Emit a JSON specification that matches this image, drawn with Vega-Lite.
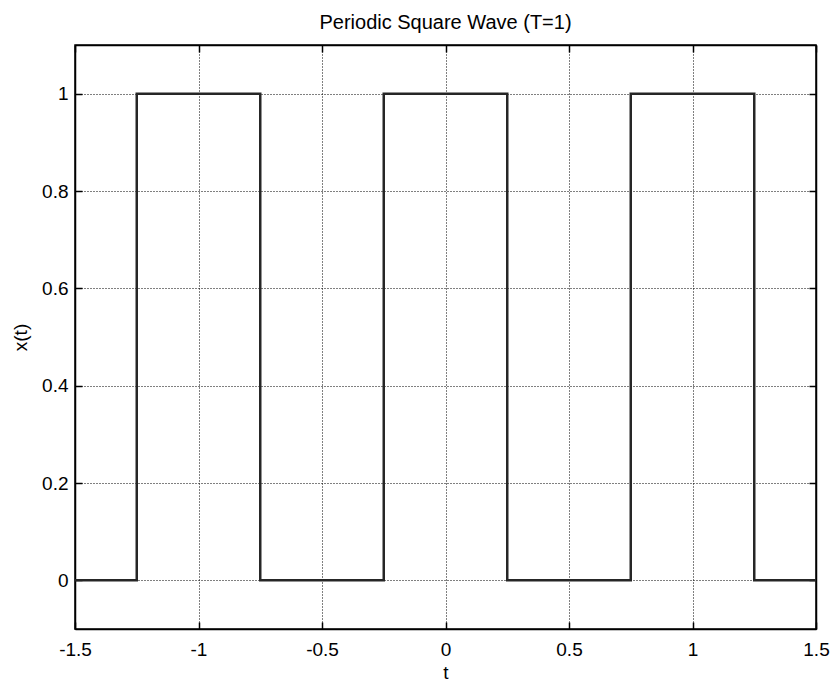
{
  "$schema": "https://vega.github.io/schema/vega-lite/v6.json",
  "autosize": "none",
  "width": 741,
  "height": 584,
  "padding": {"left": 75, "top": 45, "right": 18, "bottom": 54},
  "background": "white",
  "config": {
    "font": "Liberation Sans",
    "view": {"stroke": "black", "strokeWidth": 1.5},
    "axis": {
      "domainColor": "black",
      "domainWidth": 1.5,
      "tickColor": "black",
      "tickWidth": 1.5,
      "gridColor": "black",
      "gridDash": [1, 2],
      "gridWidth": 1,
      "gridOpacity": 1,
      "labelFont": "Liberation Sans",
      "labelFontSize": 19,
      "labelColor": "black",
      "labelExpr": "datum.value + ''",
      "titleFont": "Liberation Sans",
      "titleFontSize": 19,
      "titleFontWeight": "normal",
      "titleColor": "black"
    }
  },
  "title": {"text": "Periodic Square Wave (T=1)", "font": "Liberation Sans", "fontSize": 20, "fontWeight": "normal", "color": "black", "offset": 11},
  "data": {"values": [
    {"t": -1.5, "x": 0, "i": 0},
    {"t": -1.25, "x": 0, "i": 1},
    {"t": -1.25, "x": 1, "i": 2},
    {"t": -0.75, "x": 1, "i": 3},
    {"t": -0.75, "x": 0, "i": 4},
    {"t": -0.25, "x": 0, "i": 5},
    {"t": -0.25, "x": 1, "i": 6},
    {"t": 0.25, "x": 1, "i": 7},
    {"t": 0.25, "x": 0, "i": 8},
    {"t": 0.75, "x": 0, "i": 9},
    {"t": 0.75, "x": 1, "i": 10},
    {"t": 1.25, "x": 1, "i": 11},
    {"t": 1.25, "x": 0, "i": 12},
    {"t": 1.5, "x": 0, "i": 13}
  ]},
  "layer": [
    {
      "mark": {"type": "line", "color": "#262626", "strokeWidth": 2.5, "clip": true},
      "encoding": {
        "x": {"field": "t", "type": "quantitative", "scale": {"domain": [-1.5, 1.5], "nice": false, "zero": false},
              "axis": {"values": [-1.5, -1, -0.5, 0, 0.5, 1, 1.5], "title": "t", "tickSize": -7, "labelPadding": 18, "titlePadding": 4, "labelFlush": false, "labelOverlap": false}},
        "y": {"field": "x", "type": "quantitative", "scale": {"domain": [-0.1, 1.1], "nice": false, "zero": false},
              "axis": {"values": [0, 0.2, 0.4, 0.6, 0.8, 1], "title": "x(t)", "tickSize": -7, "labelPadding": 14, "titlePadding": 11, "labelOverlap": false}},
        "order": {"field": "i", "type": "quantitative"}
      }
    },
    {
      "mark": {"type": "line", "opacity": 0},
      "encoding": {
        "x": {"field": "t", "type": "quantitative", "scale": {"domain": [-1.5, 1.5], "nice": false, "zero": false},
              "axis": {"orient": "top", "values": [-1.5, -1, -0.5, 0, 0.5, 1, 1.5], "title": null, "labels": false, "grid": false, "tickSize": -7}},
        "y": {"field": "x", "type": "quantitative", "scale": {"domain": [-0.1, 1.1], "nice": false, "zero": false},
              "axis": {"orient": "right", "values": [0, 0.2, 0.4, 0.6, 0.8, 1], "title": null, "labels": false, "grid": false, "tickSize": -7}},
        "order": {"field": "i", "type": "quantitative"}
      }
    }
  ],
  "resolve": {"axis": {"x": "independent", "y": "independent"}}
}
